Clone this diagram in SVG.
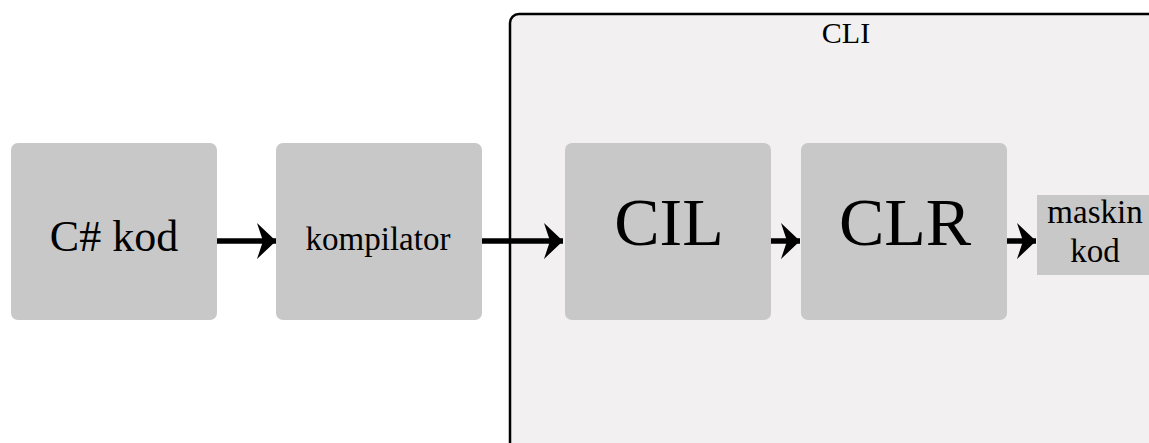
<svg xmlns="http://www.w3.org/2000/svg" width="1149" height="443" viewBox="0 0 1149 443">
<style>
.box{fill:#c8c8c8}
.t{fill:#000;text-anchor:middle}
.c{stroke:#000;stroke-width:5.5;fill:none}
</style>
<defs>
<marker id="ah" markerUnits="userSpaceOnUse" markerWidth="20" markerHeight="36" refX="19" refY="18" orient="auto">
<path d="M0,0 L19,18 L0,36 L6,18 Z" fill="#000"/>
</marker>
</defs>
<rect width="1149" height="443" fill="#fff"/>
<g font-family="'Liberation Serif', 'Times New Roman', 'DejaVu Serif', serif">
<g id="cli">
<rect x="510" y="14" width="660" height="450" rx="9" fill="#f2f0f1" stroke="#000" stroke-width="2.5"/>
<text class="t" x="846" y="43" font-size="30">CLI</text>
</g>
<g id="csharp">
<rect class="box" x="11" y="143" width="206" height="177" rx="7"/>
<text class="t" x="114" y="251" font-size="44">C# kod</text>
</g>
<g id="kompilator">
<rect class="box" x="276" y="143" width="206" height="177" rx="7"/>
<text class="t" x="378" y="250" font-size="33">kompilator</text>
</g>
<g id="cil">
<rect class="box" x="565" y="143" width="206" height="177" rx="7"/>
<text class="t" x="669" y="245" font-size="68">CIL</text>
</g>
<g id="clr">
<rect class="box" x="801" y="143" width="206" height="177" rx="7"/>
<text class="t" x="905" y="245" font-size="68">CLR</text>
</g>
<g id="maskin">
<rect class="box" x="1037" y="195" width="120" height="80"/>
<text class="t" x="1095" y="223" font-size="33">maskin</text>
<text class="t" x="1095" y="262" font-size="33">kod</text>
</g>
</g>
<g id="connectors">
<line class="c" x1="217" y1="241" x2="276" y2="241" marker-end="url(#ah)"/>
<line class="c" x1="482" y1="241" x2="563" y2="241" marker-end="url(#ah)"/>
<line class="c" x1="771" y1="241" x2="800" y2="241" marker-end="url(#ah)"/>
<line class="c" x1="1007" y1="241" x2="1036" y2="241" marker-end="url(#ah)"/>
</g>
</svg>
